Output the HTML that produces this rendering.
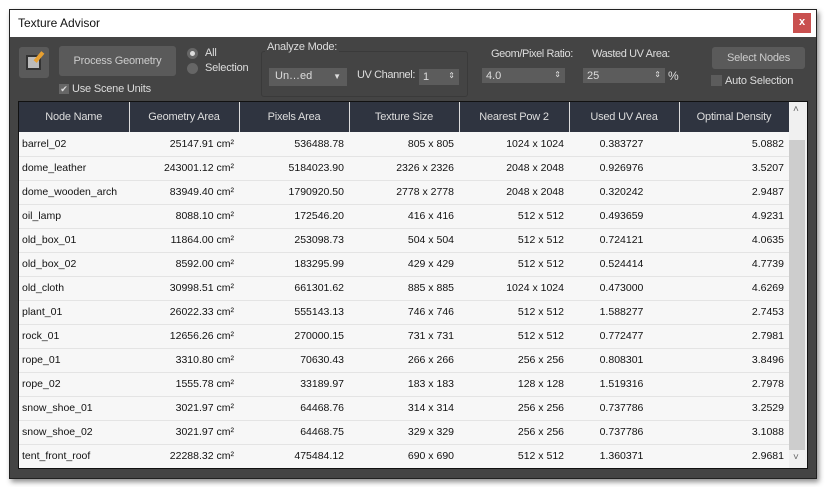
<!DOCTYPE html><html><head><style>
*{box-sizing:border-box;margin:0;padding:0}
body{width:826px;height:487px;background:#fff;font-family:"Liberation Sans",sans-serif;font-size:11px;position:relative;overflow:hidden}
.a{position:absolute}
.win{left:9px;top:9px;width:808px;height:470px;border:1px solid #222;background:#444;box-shadow:2px 3px 5px rgba(0,0,0,.45)}
.tb{left:0;top:0;width:806px;height:27px;background:#fff;color:#111;font-size:12px;padding:6px 0 0 8px}
.cl{left:783px;top:3px;width:18px;height:20px;background:#c9504f;color:#fff;font-weight:bold;text-align:center;line-height:19px;font-size:11px}
.t{color:#ddd;font-size:11px;letter-spacing:-0.2px;white-space:nowrap}
.btn{background:#5a5a5a;border-radius:3px;color:#ccc;text-align:center;font-size:11px;letter-spacing:-0.2px}
.inp{background:#5c5c5c;color:#ddd;font-size:11px;padding:2px 0 0 4px}
table{border-collapse:collapse;table-layout:fixed}
th{background:#2f3440;color:#ddd;font-weight:normal;height:30px;border-right:1px solid #ddd;font-size:11px;letter-spacing:-0.2px}
td{height:24px;border-bottom:1px solid #e4e4e4;background:#f7f7f7;color:#111;text-align:right;padding-right:5px;font-size:10.5px}
td:first-child{text-align:left;padding-left:3px}
td.c{text-align:center}
</style></head><body>
<div class="a win">
<div class="a tb">Texture Advisor</div>
<div class="a cl">x</div>
<div class="a btn" style="left:9px;top:37px;width:30px;height:31px;background:#5a5a5a"><div class="a" style="left:7px;top:8px;width:15px;height:15px;background:#bbb;border:2px solid #333"></div><div class="a" style="left:18px;top:4px;width:4px;height:12px;background:#e8a030;transform:rotate(40deg)"></div></div>
<div class="a btn" style="left:49px;top:36px;width:117px;height:30px;line-height:30px">Process Geometry</div>
<div class="a" style="left:177px;top:38px;width:11px;height:11px;border-radius:50%;background:#666"><div class="a" style="left:3px;top:3px;width:5px;height:5px;border-radius:50%;background:#ddd"></div></div>
<div class="a t" style="left:195px;top:37px">All</div>
<div class="a" style="left:177px;top:53px;width:11px;height:11px;border-radius:50%;background:#666"></div>
<div class="a t" style="left:195px;top:52px">Selection</div>
<div class="a" style="left:49px;top:74px;width:10px;height:10px;background:#666;color:#ddd;font-size:9px;line-height:10px;text-align:center">✔</div>
<div class="a t" style="left:62px;top:73px">Use Scene Units</div>
<div class="a" style="left:251px;top:41px;width:207px;height:46px;border:1px solid #3a3a3a;border-radius:3px"></div>
<div class="a t" style="left:255px;top:31px;background:#444;padding:0 2px">Analyze Mode:</div>
<div class="a inp" style="left:259px;top:58px;width:78px;height:18px;padding-left:6px">Un…ed<span style="position:absolute;right:6px;font-size:8px;top:4px">▼</span></div>
<div class="a t" style="left:347px;top:59px;letter-spacing:-0.4px">UV Channel:</div>
<div class="a inp" style="left:409px;top:59px;width:40px;height:16px">1<span style="position:absolute;right:4px;font-size:8px;top:2px">⇕</span></div>
<div class="a t" style="left:481px;top:38px;letter-spacing:-0.4px">Geom/Pixel Ratio:</div>
<div class="a inp" style="left:472px;top:58px;width:83px;height:15px">4.0<span style="position:absolute;right:4px;font-size:8px;top:2px">⇕</span></div>
<div class="a t" style="left:582px;top:38px;letter-spacing:-0.4px">Wasted UV Area:</div>
<div class="a inp" style="left:573px;top:58px;width:82px;height:15px">25<span style="position:absolute;right:4px;font-size:8px;top:2px">⇕</span></div>
<div class="a t" style="left:658px;top:59px;font-size:12px">%</div>
<div class="a btn" style="left:702px;top:37px;width:93px;height:22px;line-height:22px">Select Nodes</div>
<div class="a" style="left:701px;top:65px;width:11px;height:11px;background:#5c5c5c"></div>
<div class="a t" style="left:715px;top:65px">Auto Selection</div>
<div class="a" style="left:8px;top:91px;width:790px;height:368px;border:1px solid #111;background:#f7f7f7;overflow:hidden">
<table style="width:770px">
<colgroup><col style="width:110px"><col style="width:110px"><col style="width:110px"><col style="width:110px"><col style="width:110px"><col style="width:110px"><col style="width:110px"></colgroup>
<tr><th>Node Name</th><th>Geometry Area</th><th>Pixels Area</th><th>Texture Size</th><th>Nearest Pow 2</th><th>Used UV Area</th><th>Optimal Density</th></tr>
<tr><td>barrel_02</td><td>25147.91 cm²</td><td>536488.78</td><td>805 x 805</td><td>1024 x 1024</td><td class="c">0.383727</td><td>5.0882</td></tr>
<tr><td>dome_leather</td><td>243001.12 cm²</td><td>5184023.90</td><td>2326 x 2326</td><td>2048 x 2048</td><td class="c">0.926976</td><td>3.5207</td></tr>
<tr><td>dome_wooden_arch</td><td>83949.40 cm²</td><td>1790920.50</td><td>2778 x 2778</td><td>2048 x 2048</td><td class="c">0.320242</td><td>2.9487</td></tr>
<tr><td>oil_lamp</td><td>8088.10 cm²</td><td>172546.20</td><td>416 x 416</td><td>512 x 512</td><td class="c">0.493659</td><td>4.9231</td></tr>
<tr><td>old_box_01</td><td>11864.00 cm²</td><td>253098.73</td><td>504 x 504</td><td>512 x 512</td><td class="c">0.724121</td><td>4.0635</td></tr>
<tr><td>old_box_02</td><td>8592.00 cm²</td><td>183295.99</td><td>429 x 429</td><td>512 x 512</td><td class="c">0.524414</td><td>4.7739</td></tr>
<tr><td>old_cloth</td><td>30998.51 cm²</td><td>661301.62</td><td>885 x 885</td><td>1024 x 1024</td><td class="c">0.473000</td><td>4.6269</td></tr>
<tr><td>plant_01</td><td>26022.33 cm²</td><td>555143.13</td><td>746 x 746</td><td>512 x 512</td><td class="c">1.588277</td><td>2.7453</td></tr>
<tr><td>rock_01</td><td>12656.26 cm²</td><td>270000.15</td><td>731 x 731</td><td>512 x 512</td><td class="c">0.772477</td><td>2.7981</td></tr>
<tr><td>rope_01</td><td>3310.80 cm²</td><td>70630.43</td><td>266 x 266</td><td>256 x 256</td><td class="c">0.808301</td><td>3.8496</td></tr>
<tr><td>rope_02</td><td>1555.78 cm²</td><td>33189.97</td><td>183 x 183</td><td>128 x 128</td><td class="c">1.519316</td><td>2.7978</td></tr>
<tr><td>snow_shoe_01</td><td>3021.97 cm²</td><td>64468.76</td><td>314 x 314</td><td>256 x 256</td><td class="c">0.737786</td><td>3.2529</td></tr>
<tr><td>snow_shoe_02</td><td>3021.97 cm²</td><td>64468.75</td><td>329 x 329</td><td>256 x 256</td><td class="c">0.737786</td><td>3.1088</td></tr>
<tr><td>tent_front_roof</td><td>22288.32 cm²</td><td>475484.12</td><td>690 x 690</td><td>512 x 512</td><td class="c">1.360371</td><td>2.9681</td></tr>
</table>
<div class="a" style="left:770px;top:0;width:18px;height:366px;background:#f0f0f0"><div class="a" style="left:0;top:38px;width:16px;height:310px;background:#cdcdcd"></div><div class="a" style="left:4px;top:2px;color:#666;font-size:10px">˄</div><div class="a" style="left:4px;top:350px;color:#666;font-size:10px">˅</div></div>
</div>
</div>
</body></html>
